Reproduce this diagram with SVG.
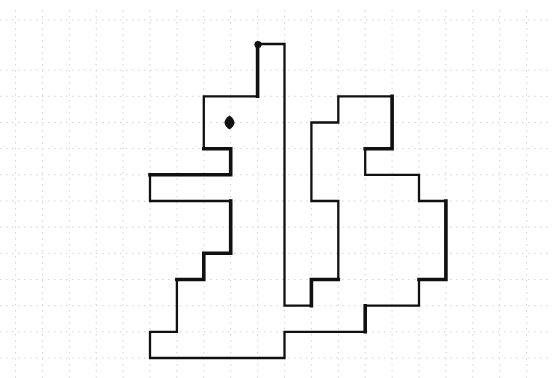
<svg xmlns="http://www.w3.org/2000/svg" width="552" height="378" viewBox="0 0 552 378">
<style>
.grid line{stroke:#d4d4d4;stroke-width:1;stroke-dasharray:1.5 4.5}
.outline{fill:none;stroke:#111;stroke-width:2.3;stroke-linejoin:miter;stroke-linecap:square}
.thick{fill:none;stroke:#111;stroke-width:3.6;stroke-linecap:square}
</style>
<rect width="552" height="378" fill="#fff"/>
<g id="grid" class="grid">
<line x1="15.5" y1="10" x2="15.5" y2="378"/>
<line x1="42.4" y1="10" x2="42.4" y2="378"/>
<line x1="69.3" y1="10" x2="69.3" y2="378"/>
<line x1="96.2" y1="10" x2="96.2" y2="378"/>
<line x1="123.1" y1="10" x2="123.1" y2="378"/>
<line x1="150" y1="10" x2="150" y2="378"/>
<line x1="176.9" y1="10" x2="176.9" y2="378"/>
<line x1="203.8" y1="10" x2="203.8" y2="378"/>
<line x1="230.7" y1="10" x2="230.7" y2="378"/>
<line x1="257.6" y1="10" x2="257.6" y2="378"/>
<line x1="284.5" y1="10" x2="284.5" y2="378"/>
<line x1="311.4" y1="10" x2="311.4" y2="378"/>
<line x1="338.3" y1="10" x2="338.3" y2="378"/>
<line x1="365.2" y1="10" x2="365.2" y2="378"/>
<line x1="392.1" y1="10" x2="392.1" y2="378"/>
<line x1="419" y1="10" x2="419" y2="378"/>
<line x1="445.9" y1="10" x2="445.9" y2="378"/>
<line x1="472.8" y1="10" x2="472.8" y2="378"/>
<line x1="499.7" y1="10" x2="499.7" y2="378"/>
<line x1="526.6" y1="10" x2="526.6" y2="378"/>
<line x1="0" y1="20" x2="552" y2="20"/>
<line x1="0" y1="70.2" x2="552" y2="70.2"/>
<line x1="0" y1="96.3" x2="552" y2="96.3"/>
<line x1="0" y1="122.5" x2="552" y2="122.5"/>
<line x1="0" y1="148.7" x2="552" y2="148.7"/>
<line x1="0" y1="174.8" x2="552" y2="174.8"/>
<line x1="0" y1="201" x2="552" y2="201"/>
<line x1="0" y1="227.2" x2="552" y2="227.2"/>
<line x1="0" y1="253.3" x2="552" y2="253.3"/>
<line x1="0" y1="279.5" x2="552" y2="279.5"/>
<line x1="0" y1="305.7" x2="552" y2="305.7"/>
<line x1="0" y1="331.8" x2="552" y2="331.8"/>
<line x1="0" y1="358" x2="552" y2="358"/>
</g>
<g id="figure">
<path class="outline" d="M257.6,44 H284.5 V305.7 H311.4 V279.5 H338.3 V201 H311.4 V122.5 H338.3 V96.3 H392.1 V148.7 H365.2 V174.8 H419 V201 H445.9 V279.5 H419 V305.7 H365.2 V331.8 H284.5 V358 H150 V331.8 H176.9 V279.5 H203.8 V253.3 H230.7 V201 H150 V174.8 H230.7 V148.7 H203.8 V96.3 H257.6 Z"/>
<path class="thick" d="M257.6,44 V96.3 M150,174.8 H230.7 V148.7 H203.8 M230.7,201 V253.3 H203.8 V279.5 H176.9 M392.1,96.3 V148.7 H365.2 M419,279.5 H445.9 V201 M365.2,305.7 V331.8 M311.4,305.7 V279.5 H338.3"/>
<circle cx="258" cy="44.5" r="3.6" fill="#111"/>
<path d="M229.5,115.5 C233,118 234.5,120.5 234.5,122.5 C234.5,125 232,128 229.5,129.5 C227,128 224.5,125 224.5,122.5 C224.5,120.5 226,118 229.5,115.5 Z" fill="#111"/>
</g>
</svg>
